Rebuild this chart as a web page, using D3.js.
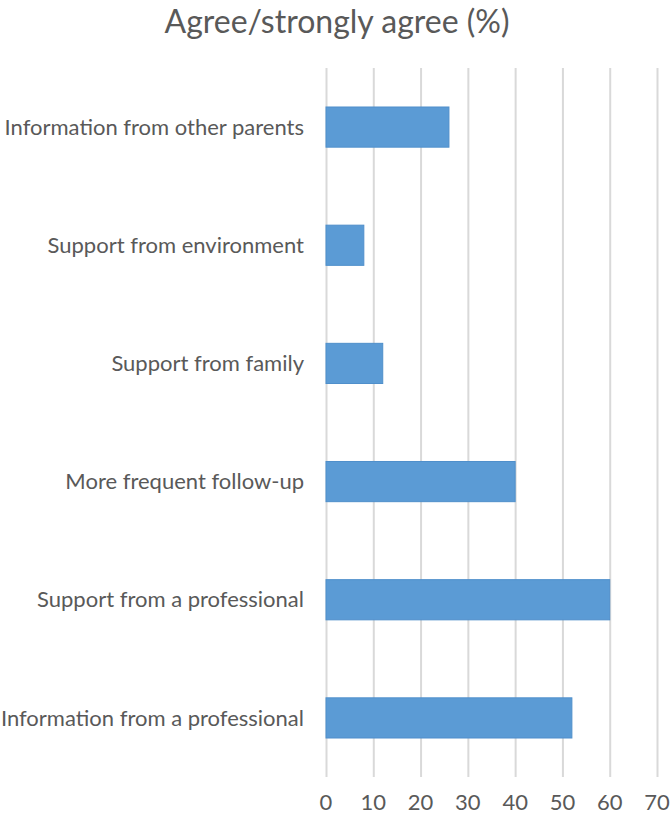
<!DOCTYPE html>
<html lang="en">
  <head>
    <meta charset="UTF-8">
    <title>Agree/strongly agree (%)</title>
    <style>
      body { margin: 0; background: #fff; }
      text { font-family: Lato, "Open Sans", sans-serif; fill: #595959; }
      .grid line { stroke: #d9d9d9; stroke-width: 2; }
      .grid path { display: none; }
      .bar { fill: #5b9bd5; stroke: #4f8fcb; stroke-width: 1; }
    </style>
    <script src="https://d3js.org/d3.v7.min.js"></script>
  </head>
  <body>
    <script>
      const categories = [
        "Information from other parents",
        "Support from environment",
        "Support from family",
        "More frequent follow-up",
        "Support from a professional",
        "Information from a professional"
      ];
      const values = [26, 8, 12, 40, 60, 52];
      const ticks = [0, 10, 20, 30, 40, 50, 60, 70];

      const width = 670, height = 814;
      const margin = { top: 68, right: 13, bottom: 37, left: 326 };

      const svg = d3.select("body").append("svg")
        .attr("width", width)
        .attr("height", height);

      const x = d3.scaleLinear()
        .domain([0, 70])
        .range([margin.left, width - margin.right]);

      const y = d3.scaleBand()
        .domain(categories)
        .range([margin.top, height - margin.bottom])
        .paddingInner(0.66)
        .paddingOuter(0.33);

      // vertical gridlines
      svg.append("g")
        .attr("class", "grid")
        .attr("transform", `translate(0,${height - margin.bottom})`)
        .call(d3.axisBottom(x)
          .tickValues(ticks)
          .tickSize(-(height - margin.top - margin.bottom))
          .tickFormat(""));

      // tick labels
      svg.append("g")
        .selectAll("text")
        .data(ticks)
        .join("text")
        .attr("x", d => x(d))
        .attr("y", 810)
        .attr("text-anchor", "middle")
        .style("font-size", "22px")
        .text(d => d);

      svg.append("g")
        .selectAll("rect")
        .data(values)
        .join("rect")
        .attr("class", "bar")
        .attr("x", x(0))
        .attr("y", (d, i) => y(categories[i]))
        .attr("width", d => x(d) - x(0))
        .attr("height", y.bandwidth());

      svg.append("g")
        .selectAll("text")
        .data(categories)
        .join("text")
        .attr("x", 304)
        .attr("y", d => y(d) + y.bandwidth() / 2)
        .attr("dy", "0.35em")
        .attr("text-anchor", "end")
        .style("font-size", "22px")
        .text(d => d);

      svg.append("text")
        .attr("x", 337)
        .attr("y", 33)
        .attr("text-anchor", "middle")
        .style("font-size", "32px")
        .text("Agree/strongly agree (%)");
    </script>
  </body>
</html>
